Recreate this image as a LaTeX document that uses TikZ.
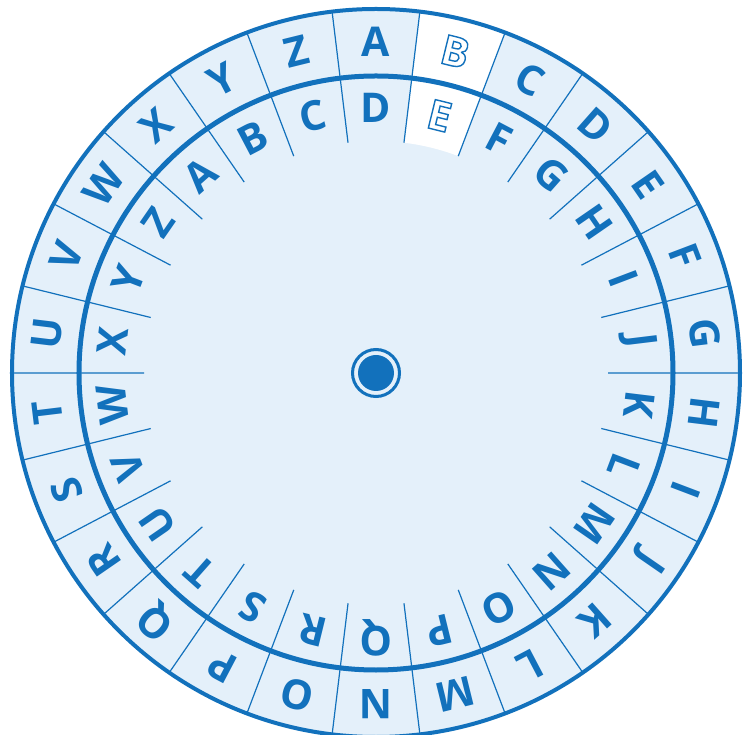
\documentclass[tikz,border=0pt]{standalone}
\usepackage{fontspec}
\setmainfont{Open Sans}
\usetikzlibrary{positioning}
\definecolor{wheelblue}{HTML}{1271BC}
\definecolor{wheelfill}{HTML}{E4F0FA}
% stroked (hollow) glyphs
\newcommand\hollow[1]{\special{pdf:literal 1 Tr 1.4 w}#1\special{pdf:literal 0 Tr}}

\begin{document}
\begin{tikzpicture}[
  x=1pt, y=1pt,
  letter/.style={font=\fontsize{41}{41}\selectfont\bfseries, text=wheelblue, inner sep=0pt},
  rim/.style={draw=wheelblue, line width=4pt},
  divider/.style={draw=wheelblue, line width=1.2pt}
]
\useasboundingbox (-376,-362) rectangle (370,373);
\fill[wheelfill] (0,0) circle (364);
% shifted pair B -> E
\fill[white] (83.077:232) arc (83.077:69.231:232) -- (69.231:364) arc (69.231:83.077:364) -- cycle;
\foreach \k in {0,...,25}
  \draw[divider] ({83.077-\k*13.846}:232) -- ({83.077-\k*13.846}:364);
\draw[rim] (0,0) circle (364);
\draw[rim, line width=5pt] (0,0) circle (297);
% outer and inner alphabets
\foreach \o/\i [count=\k from 0, evaluate=\k as \a using 90-\k*360/26] in
  {A/D,B/E,C/F,D/G,E/H,F/I,G/J,H/K,I/L,J/M,K/N,L/O,M/P,
   N/Q,O/R,P/S,Q/T,R/U,S/V,T/W,U/X,V/Y,W/Z,X/A,Y/B,Z/C} {
  \node[letter, rotate=\a-90] (out-\o) at (\a:331) {\ifnum\k=1 \hollow{\o}\else\o\fi};
  \node[letter, rotate=\a-90] (in-\i) at (\a:265) {\ifnum\k=1 \hollow{\i}\else\i\fi};
}
% hub
\node[circle, draw=wheelblue, line width=3pt, minimum size=47pt, inner sep=0pt] (hub) at (0,0) {};
\node[circle, fill=wheelblue, minimum size=36pt, inner sep=0pt] (pin) at (hub.center) {};
\end{tikzpicture}
\end{document}
